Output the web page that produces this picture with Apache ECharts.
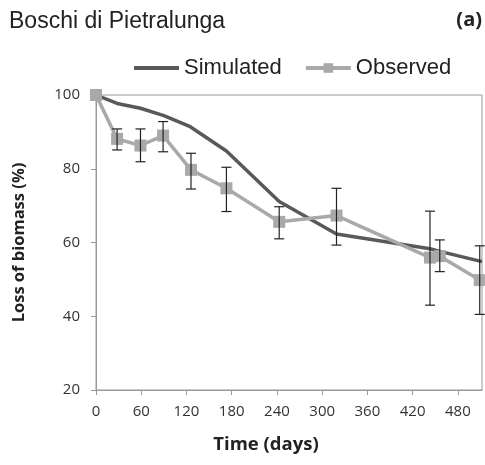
<!DOCTYPE html>
<html>
<head>
<meta charset="utf-8">
<script src="https://cdn.jsdelivr.net/npm/echarts@6/dist/echarts.min.js"></script>
<style>html,body{margin:0;padding:0;background:#fff}#c{width:485px;height:465px}</style>
</head>
<body>
<div id="c"></div>
<script>
var simDays = [0, 28, 59, 90, 125, 173, 243, 319, 443, 456, 512];
var simValues = [100, 97.7, 96.4, 94.4, 91.4, 84.8, 71.1, 62.3, 58.3, 57.6, 54.8];
var obsDays = [0, 28, 59, 89, 126, 173, 243, 319, 443, 456, 509];
var obsValues = [100, 88.1, 86.3, 89.0, 79.7, 74.7, 65.6, 67.3, 55.9, 56.3, 49.8];
var obsErrHigh = [100, 90.8, 90.8, 92.8, 84.2, 80.4, 69.7, 74.7, 68.5, 60.7, 59.1];
var obsErrLow = [100, 85.1, 81.9, 84.6, 74.5, 68.4, 61.0, 59.3, 43.0, 52.1, 40.5];
var xTicks = [0, 60, 120, 180, 240, 300, 360, 420, 480];
var yTicks = [20, 40, 60, 80, 100];

var chart = echarts.init(document.getElementById('c'));
var errData = obsDays.map(function (d, i) { return [d, obsErrLow[i], obsErrHigh[i]]; });
var axisFont = 'Open Sans';
chart.setOption({
  animation: false,
  backgroundColor: '#fff',
  title: [
    { text: 'Boschi di Pietralunga', left: 9, top: 10, padding: 0, textStyle: { fontFamily: 'Liberation Sans', fontSize: 23, fontWeight: 'normal', color: '#222' } },
    { text: '(a)', right: 3, top: 10, padding: 0, textStyle: { fontFamily: 'Open Sans', fontSize: 20, fontWeight: 'bold', color: '#222' } }
  ],
  legend: {
    top: 57, left: 132, padding: 0,
    itemWidth: 45, itemHeight: 12, itemGap: 22,
    textStyle: { fontFamily: 'Liberation Sans', fontSize: 22, color: '#222' },
    data: [
      { name: 'Simulated', itemStyle: { opacity: 0 }, lineStyle: { width: 4 } },
      { name: 'Observed', lineStyle: { width: 4 } }
    ]
  },
  grid: { left: 96, top: 95, right: 3, bottom: 75, show: true, borderColor: '#999', borderWidth: 1 },
  xAxis: {
    type: 'value', min: 0, max: 512, interval: 60,
    name: 'Time (days)', nameLocation: 'middle', nameGap: 45,
    nameTextStyle: { fontFamily: axisFont, fontSize: 18.5, fontWeight: 'bold', color: '#222', padding: [0, 46, 0, 0] },
    axisLine: { lineStyle: { color: '#999' } },
    axisTick: { length: 5, lineStyle: { color: '#999' }, customValues: xTicks },
    axisLabel: { fontFamily: axisFont, fontSize: 15, color: '#333', margin: 14, customValues: xTicks },
    splitLine: { show: false }
  },
  yAxis: {
    type: 'value', min: 20, max: 100, interval: 20,
    name: 'Loss of biomass (%)', nameLocation: 'middle', nameGap: 68,
    nameTextStyle: { fontFamily: axisFont, fontSize: 16.5, fontWeight: 'bold', color: '#222' },
    axisLine: { show: true, lineStyle: { color: '#999' } },
    axisTick: { show: true, length: 5, lineStyle: { color: '#999' } },
    axisLabel: { fontFamily: axisFont, fontSize: 15, color: '#333', margin: 16 },
    splitLine: { show: false }
  },
  series: [
    {
      name: 'Simulated', type: 'line', symbol: 'none', clip: false,
      data: simDays.map(function (d, i) { return [d, simValues[i]]; }),
      lineStyle: { color: '#595959', width: 3.5 }, itemStyle: { color: '#595959' }, z: 3
    },
    {
      name: 'Observed', type: 'line', symbol: 'rect', symbolSize: 12, clip: false,
      data: obsDays.map(function (d, i) { return [d, obsValues[i]]; }),
      lineStyle: { color: '#a9a9a9', width: 3.5 }, itemStyle: { color: '#a9a9a9' }, z: 4
    },
    {
      name: 'err', type: 'custom', clip: false, z: 5,
      data: errData,
      renderItem: function (params, api) {
        var x = api.value(0);
        var lo = api.coord([x, api.value(1)]);
        var hi = api.coord([x, api.value(2)]);
        if (Math.abs(lo[1] - hi[1]) < 1) return null;
        var w = 5;
        var st = { stroke: '#222', lineWidth: 1.2 };
        return {
          type: 'group',
          children: [
            { type: 'line', shape: { x1: lo[0], y1: lo[1], x2: hi[0], y2: hi[1] }, style: st },
            { type: 'line', shape: { x1: lo[0] - w, y1: lo[1], x2: lo[0] + w, y2: lo[1] }, style: st },
            { type: 'line', shape: { x1: hi[0] - w, y1: hi[1], x2: hi[0] + w, y2: hi[1] }, style: st }
          ]
        };
      }
    }
  ]
});
</script>
</body>
</html>
